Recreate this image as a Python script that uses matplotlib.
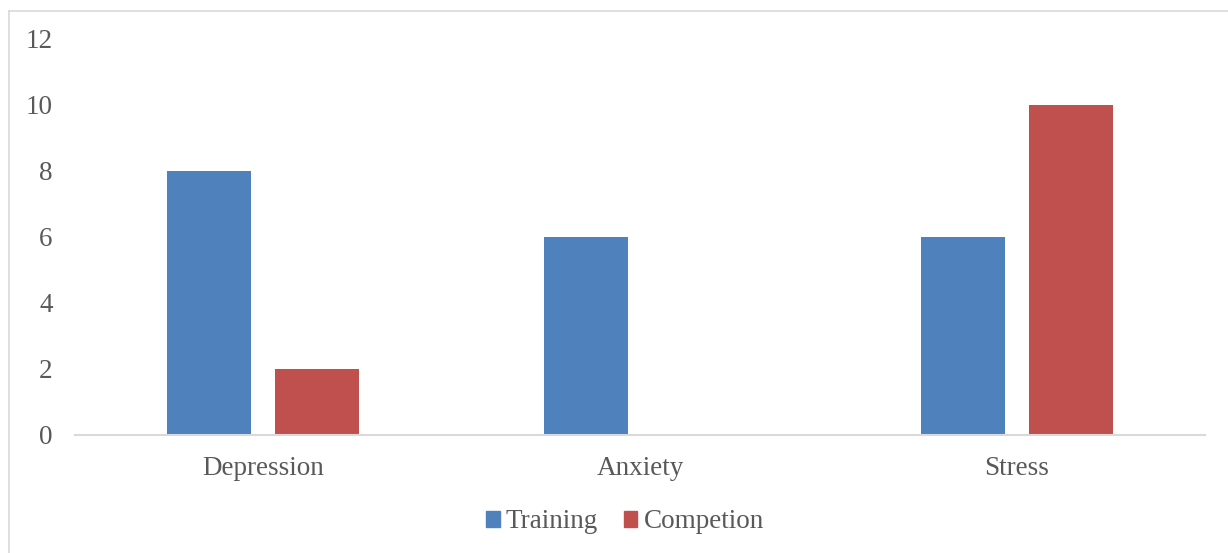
import numpy as np
import matplotlib
matplotlib.use("Agg")
import matplotlib.pyplot as plt
from matplotlib.patches import Patch
from matplotlib.lines import Line2D

categories = ["Depression", "Anxiety", "Stress"]
training   = [8, 6, 6]
competion  = [2, 0, 10]
series     = ["Training", "Competion"]

BLUE, RED = "#4F81BD", "#C0504D"
GREY_TXT  = "#595959"
GREY_LN   = "#D9D9D9"

plt.rcParams["font.family"] = ["Liberation Serif", "DejaVu Serif"]

W, H = 1228, 553
fig = plt.figure(figsize=(W / 100, H / 100), dpi=100)
ax = fig.add_axes([75 / W, 1 - 435 / H, (1205 - 75) / W, (435 - 39) / H])

x = np.arange(len(categories))
bw, off = 0.223, 0.143
ax.bar(x - off, training, bw, color=BLUE, label=series[0])
ax.bar(x + off, competion, bw, color=RED, label=series[1])

ax.set_xlim(-0.5, len(categories) - 0.5)
ax.set_ylim(0, 12)
ax.set_yticks(range(0, 13, 2))
ax.set_xticks(x)
ax.set_xticklabels(categories)
for s in ["top", "right", "left"]:
    ax.spines[s].set_visible(False)
ax.spines["bottom"].set_color(GREY_LN)
ax.spines["bottom"].set_linewidth(1.5)
ax.tick_params(axis="both", length=0, labelsize=19.5, colors=GREY_TXT)
ax.tick_params(axis="y", pad=16)
ax.tick_params(axis="x", pad=15)

# chart-area border (only left and top fall inside the picture)
fig.add_artist(Line2D([9 / W, 9 / W], [0, 1 - 11 / H], color=GREY_LN, lw=1.2,
                      transform=fig.transFigure))
fig.add_artist(Line2D([9 / W, 1], [1 - 11 / H, 1 - 11 / H], color=GREY_LN, lw=1.2,
                      transform=fig.transFigure))

handles = [Patch(color=BLUE), Patch(color=RED)]
fig.legend(handles, series, loc="center", bbox_to_anchor=(0.509, 1 - 522 / H),
           ncol=2, frameon=False, fontsize=19.5, labelcolor=GREY_TXT,
           handlelength=0.5, handleheight=0.5, handletextpad=0.22, columnspacing=0.95)

fig.savefig("out.png", dpi=100)
